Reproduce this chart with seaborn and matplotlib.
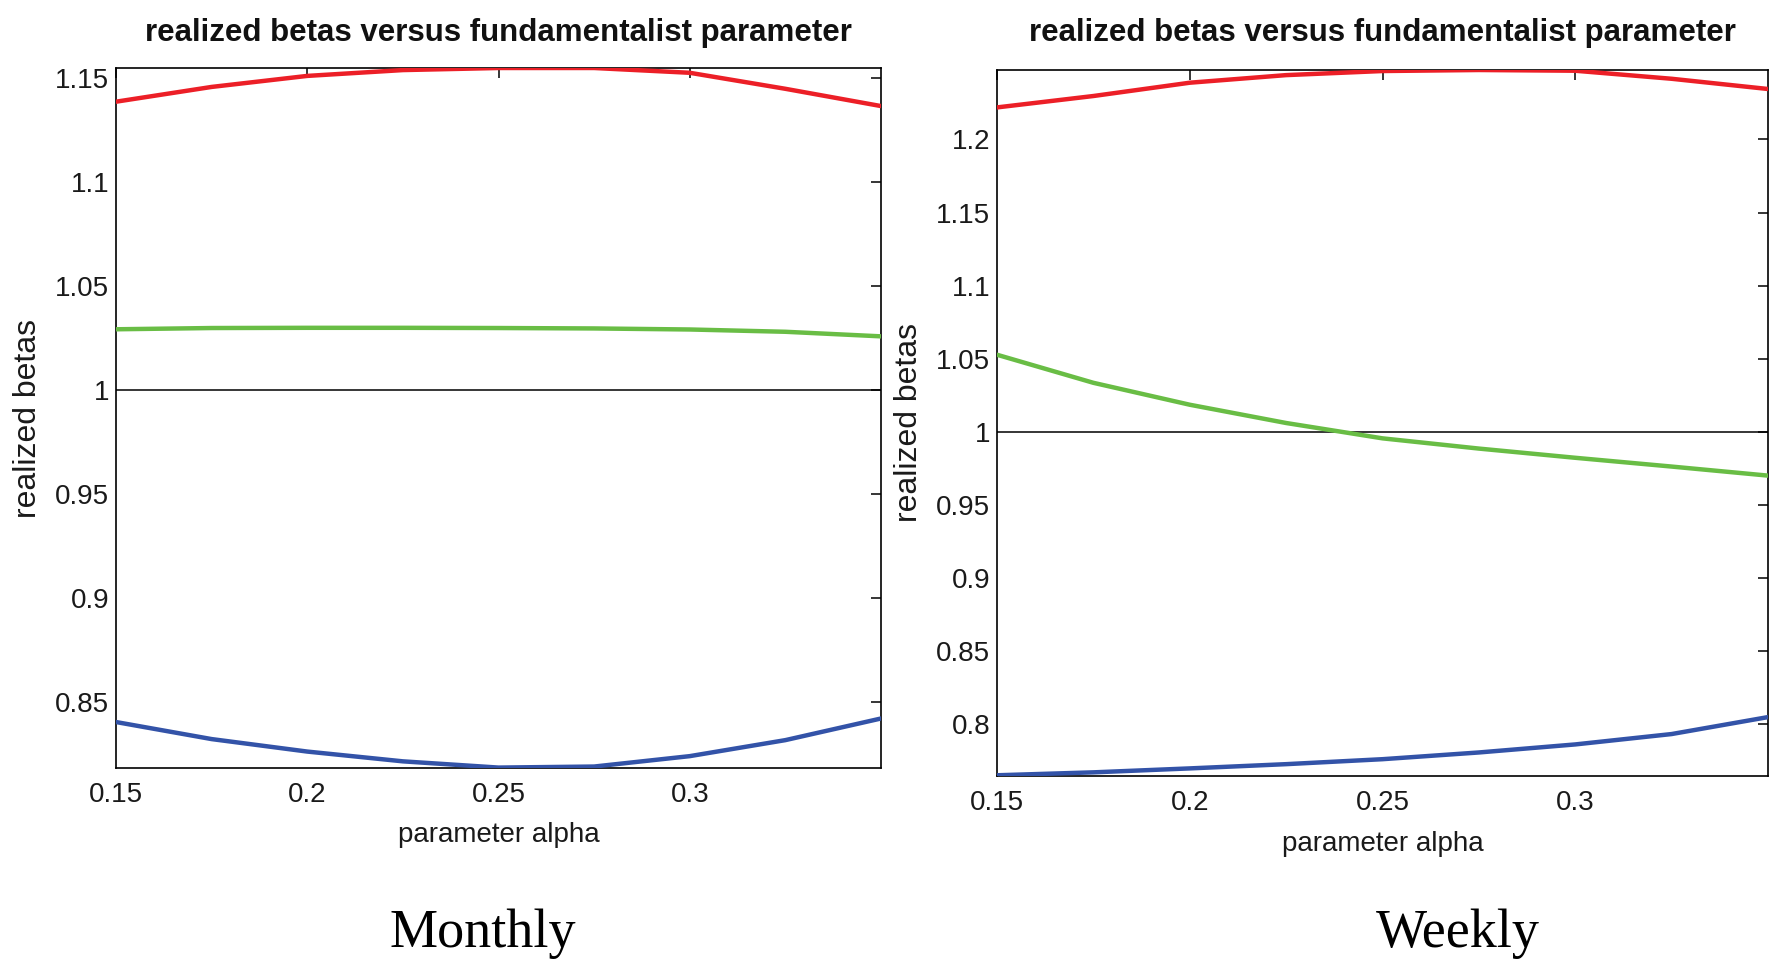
import numpy as np
import pandas as pd
import matplotlib
matplotlib.use("Agg")
import matplotlib.pyplot as plt
import seaborn as sns

# ---------------- data ----------------
alpha = [0.15, 0.175, 0.2, 0.225, 0.25, 0.275, 0.3, 0.325, 0.35]

monthly_high = [1.1386, 1.1457, 1.1510, 1.1538, 1.1548, 1.1548, 1.1525, 1.1448, 1.1365]
monthly_mid = [1.0292, 1.0298, 1.0299, 1.0299, 1.0298, 1.0296, 1.0291, 1.0280, 1.0258]
monthly_low = [0.8404, 0.8322, 0.8262, 0.8215, 0.8185, 0.8190, 0.8240, 0.8317, 0.8421]

weekly_high = [1.2219, 1.2297, 1.2388, 1.2440, 1.2468, 1.2475, 1.2470, 1.2415, 1.2345]
weekly_mid = [1.0527, 1.0335, 1.0185, 1.0060, 0.9955, 0.9885, 0.9822, 0.9762, 0.9700]
weekly_low = [0.7650, 0.7670, 0.7697, 0.7726, 0.7760, 0.7806, 0.7861, 0.7932, 0.8048]

x_ticks = [0.15, 0.2, 0.25, 0.3]
x_ticklabels = ["0.15", "0.2", "0.25", "0.3"]
monthly_yticks = [0.85, 0.9, 0.95, 1.0, 1.05, 1.1, 1.15]
monthly_yticklabels = ["0.85", "0.9", "0.95", "1", "1.05", "1.1", "1.15"]
weekly_yticks = [0.8, 0.85, 0.9, 0.95, 1.0, 1.05, 1.1, 1.15, 1.2]
weekly_yticklabels = ["0.8", "0.85", "0.9", "0.95", "1", "1.05", "1.1", "1.15", "1.2"]

title_text = "realized betas versus fundamentalist parameter"
xlabel_text = "parameter alpha"
ylabel_text = "realized betas"
panel_names = ["Monthly", "Weekly"]

series_colors = {"high": "#ec1f27", "mid": "#69bd45", "low": "#3353a8"}

# ---------------- style ----------------
sns.set_style("white")
plt.rcParams["font.family"] = ["Liberation Sans", "DejaVu Sans"]

W, H = 1769, 961
fig = plt.figure(figsize=(W / 100, H / 100), dpi=100)


def make_df(high, mid, low):
    frames = []
    for name, vals in (("high", high), ("mid", mid), ("low", low)):
        frames.append(pd.DataFrame({"alpha": alpha, "beta": vals, "series": name}))
    return pd.concat(frames, ignore_index=True)


panels = [
    dict(rect=(116, 68, 881, 768), df=make_df(monthly_high, monthly_mid, monthly_low),
         ylim=(0.8183, 1.1548), yt=monthly_yticks, ytl=monthly_yticklabels,
         name_x=483),
    dict(rect=(997, 70, 1768, 776), df=make_df(weekly_high, weekly_mid, weekly_low),
         ylim=(0.7645, 1.2475), yt=weekly_yticks, ytl=weekly_yticklabels,
         name_x=1458),
]

tick_color = "#1a1a1a"
for p, pname in zip(panels, panel_names):
    x0, y0, x1, y1 = p["rect"]
    ax = fig.add_axes([x0 / W, 1 - y1 / H, (x1 - x0) / W, (y1 - y0) / H])
    ax.axhline(1.0, color="black", lw=1.1, zorder=1)
    sns.lineplot(data=p["df"], x="alpha", y="beta", hue="series",
                 palette=series_colors, hue_order=["high", "mid", "low"],
                 lw=3.2, legend=False, ax=ax, zorder=3, clip_on=True)
    ax.set_xlim(0.15, 0.35)
    ax.set_ylim(*p["ylim"])
    ax.set_xticks(x_ticks)
    ax.set_xticklabels(x_ticklabels)
    ax.set_yticks(p["yt"])
    ax.set_yticklabels(p["ytl"])
    ax.tick_params(axis="both", direction="in", length=7, width=1.1,
                   color="black", labelsize=20, labelcolor=tick_color,
                   top=True, right=True)
    ax.tick_params(axis="y", pad=5)
    ax.tick_params(axis="x", pad=10)
    for s in ax.spines.values():
        s.set_color("black")
        s.set_linewidth(1.2)
        s.set_visible(True)
    ax.set_xlabel(xlabel_text, fontsize=20, color=tick_color)
    ax.set_ylabel(ylabel_text, fontsize=23, color=tick_color)
    ax_h = y1 - y0
    ax_w = x1 - x0
    ax.xaxis.set_label_coords(0.5, -(835 - y1 + (9 if pname == "Weekly" else 0)) / ax_h)
    ax.xaxis.label.set_va("center")
    ax.yaxis.set_label_coords(-(88) / ax_w, 0.5)
    ax.yaxis.label.set_va("center")
    ax.text(0.5, 1 + (y0 - 33) / ax_h, title_text, transform=ax.transAxes,
            ha="center", va="center", fontsize=22.5, fontweight="bold",
            color="#111111")
    fig.text(p["name_x"] / W, 1 - 934 / H, pname, ha="center", va="center",
             fontsize=39, family=["Liberation Serif", "DejaVu Serif"], color="black")

fig.savefig("out.png", dpi=100, facecolor="white")
